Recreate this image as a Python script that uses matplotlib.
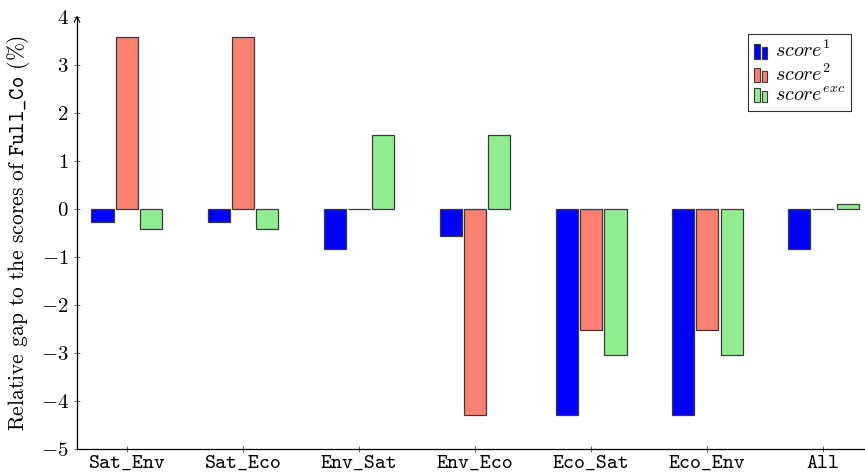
import numpy as np
import matplotlib.pyplot as plt
from matplotlib.patches import Rectangle
from matplotlib.legend_handler import HandlerBase

plt.rcParams['font.family'] = 'serif'
plt.rcParams['font.serif'] = ['cmr10']
plt.rcParams['mathtext.fontset'] = 'cm'
plt.rcParams['axes.unicode_minus'] = False
plt.rcParams['axes.formatter.use_mathtext'] = True

# Data
categories = ['Sat_Env', 'Sat_Eco', 'Env_Sat', 'Env_Eco', 'Eco_Sat', 'Eco_Env', 'All']
score1 = [-0.27, -0.27, -0.83, -0.56, -4.29, -4.29, -0.83]
score2 = [3.58, 3.58, 0.0, -4.29, -2.52, -2.52, 0.0]
score_exc = [-0.42, -0.42, 1.54, 1.54, -3.04, -3.04, 0.11]
labels = [r'$score^1$', r'$score^2$', r'$score^{exc}$']
colors = ['#0000ff', '#fa8072', '#90ee90']
yticks = [-5, -4, -3, -2, -1, 0, 1, 2, 3, 4]


class TwoBars(HandlerBase):
    # pgfplots style legend image: two small bars
    def create_artists(self, legend, orig, xd, yd, w, h, fs, trans):
        p = orig.patches[0]
        fc = p.get_facecolor()
        ec = p.get_edgecolor()
        bw = w * 0.32
        r1 = Rectangle((-xd, -yd - 0.1 * h), bw, h * 1.0, fc=fc, ec=ec, lw=0.8, transform=trans)
        r2 = Rectangle((-xd + bw * 1.5, -yd - 0.1 * h), bw, h * 0.8, fc=fc, ec=ec, lw=0.8, transform=trans)
        return [r1, r2]


fig = plt.figure(figsize=(8.65, 4.73), dpi=100)
ax = fig.add_axes([0.089, 0.0507, 0.911, 0.9133])

x = np.arange(len(categories))
w = 0.19
step = 0.21
bars = []
for i, vals in enumerate([score1, score2, score_exc]):
    b = ax.bar(x + (i - 1) * step, vals, w, color=colors[i],
               edgecolor='#3a3a3a', linewidth=0.9, label=labels[i])
    bars.append(b)

ax.set_xlim(-0.43, 6.36)
ax.set_ylim(-5, 4)
ax.set_xticks(x)
ax.set_xticklabels(categories, fontfamily=['cmtt10', 'DejaVu Sans Mono'], fontsize=15)
ax.set_yticks(yticks)
ax.set_yticklabels([f'${v}$' for v in yticks], fontsize=15)
ax.tick_params(direction='inout', length=4, width=0.6, colors='#444444', labelcolor='black')
ax.tick_params(axis='x', pad=2)
ax.tick_params(axis='y', pad=4)

ax.spines['top'].set_visible(False)
ax.spines['right'].set_visible(False)
ax.spines['left'].set_linewidth(0.9)
ax.spines['bottom'].set_linewidth(0.9)

# arrow at the top of the y axis
ax.annotate('', xy=(0, 1.01), xytext=(0, 0.99), xycoords='axes fraction',
            arrowprops=dict(arrowstyle='->', lw=0.8, color='black'))

ax.set_ylabel(r'Relative gap to the scores of $\mathtt{Full\_Co}$ (%)', fontsize=15.5, labelpad=6)

leg = ax.legend(handles=bars, labels=labels, handler_map={b: TwoBars() for b in bars},
                loc='upper right', bbox_to_anchor=(0.995, 0.985), fontsize=14.5,
                frameon=True, fancybox=False, handlelength=0.8, handletextpad=0.2,
                labelspacing=0.1, borderpad=0.3)
leg.get_frame().set_edgecolor('black')
leg.get_frame().set_linewidth(0.8)

plt.savefig('out.png', dpi=100)
